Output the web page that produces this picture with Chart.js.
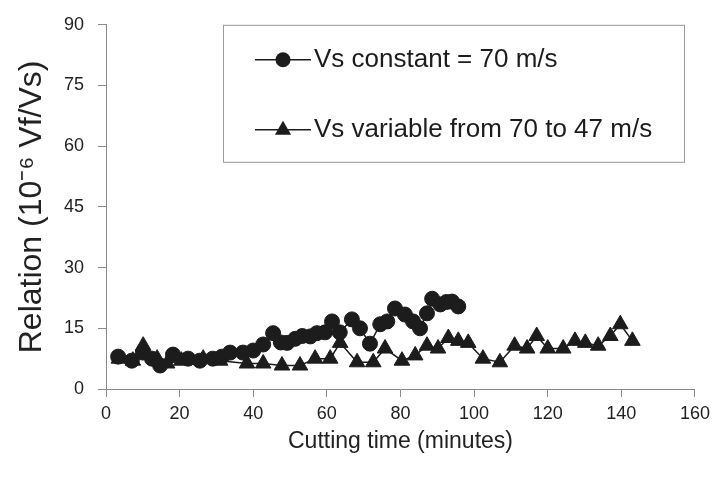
<!DOCTYPE html>
<html>
<head>
<meta charset="utf-8">
<script src="https://cdn.jsdelivr.net/npm/chart.js@4"></script>
<style>
  html, body { margin: 0; padding: 0; background: #fff; }
  #wrap { width: 716px; height: 491px; }
</style>
</head>
<body>
<div id="wrap"><canvas id="myChart" width="716" height="491"></canvas></div>
<script>
// Series: cutting time (min) and relation (10^-6 Vf/Vs)
const constTime = [3.3, 7, 10, 12.5, 14.7, 18.2, 22.3, 25.5, 29, 31.5, 33.7, 37.2, 40, 42.7, 45.4, 47.5, 49.2, 51.4, 53.3, 55.5, 57.3, 59.5, 61.4, 63.5, 66.8, 69, 71.7, 74.5, 76.4, 78.5, 81.2, 83.4, 85.3, 87.2, 88.6, 90.8, 92.5, 94, 95.7];
const constValue = [8, 7, 9, 7.5, 5.8, 8.5, 7.5, 7, 7.5, 8, 9, 9, 9.5, 11, 13.8, 11.5, 11.4, 12.4, 13.1, 13, 13.8, 14, 16.7, 14, 17.2, 15, 11.2, 16, 16.7, 19.9, 18.4, 16.7, 15, 18.7, 22.3, 20.9, 21.5, 21.6, 20.4];

const varTime = [3.5, 7.3, 10.1, 13.9, 16.6, 20.5, 26.4, 31, 38.3, 42.7, 47.8, 52.7, 56.8, 60.9, 63.6, 68.2, 72.6, 75.8, 80.4, 84, 87.2, 90.2, 93, 95.7, 98.4, 102.4, 107, 111, 114.4, 117, 120, 124.2, 127.4, 130.2, 133.7, 137, 139.7, 143];
const varValue = [7.5, 7, 10.7, 7.5, 6.3, 7, 7.5, 7, 6.3, 6.3, 5.8, 5.8, 7.5, 7.5, 11.4, 6.6, 6.6, 10, 7, 8.3, 10.7, 10, 12.6, 11.9, 11.4, 7.5, 6.6, 10.7, 10, 13.1, 10, 10, 11.9, 11.4, 10.7, 13.1, 16, 11.9];

const seriesLabels = ['Vs constant = 70 m/s', 'Vs variable from 70 to 47 m/s'];
const xTicks = [0, 20, 40, 60, 80, 100, 120, 140, 160];
const yTicks = [0, 15, 30, 45, 60, 75, 90];

const ink = '#1c1c1c';
const axisGray = '#8a8a8a';
const font = 'Liberation Sans, Arial, sans-serif';

function toPoints(xs, ys) {
    return xs.map((x, i) => ({ x: x, y: ys[i] }));
}

// Boxed legend drawn inside the plot, like the original figure
const boxLegend = {
    id: 'boxLegend',
    afterDraw(chart) {
        const ctx = chart.ctx;
        const a = chart.chartArea;
        const left = a.left + 117, top = a.top, right = 684, bottom = a.top + 137;
        ctx.save();
        ctx.strokeStyle = '#9a9a9a';
        ctx.lineWidth = 1;
        ctx.strokeRect(left + 0.5, top + 0.5, right - left, bottom - top);

        const rows = [
            { y: top + 35, style: 'circle', r: 7.5 },
            { y: top + 105, style: 'triangle', r: 9 }
        ];
        rows.forEach((row, i) => {
            const x0 = left + 32, x1 = left + 88, xm = (x0 + x1) / 2;
            ctx.strokeStyle = ink;
            ctx.lineWidth = 1.5;
            ctx.beginPath();
            ctx.moveTo(x0, row.y);
            ctx.lineTo(x1, row.y);
            ctx.stroke();
            ctx.fillStyle = ink;
            ctx.beginPath();
            if (row.style === 'circle') {
                ctx.arc(xm, row.y, row.r, 0, Math.PI * 2);
            } else {
                ctx.moveTo(xm, row.y - row.r);
                ctx.lineTo(xm + row.r * 0.9, row.y + row.r * 0.55);
                ctx.lineTo(xm - row.r * 0.9, row.y + row.r * 0.55);
                ctx.closePath();
            }
            ctx.fill();
            ctx.font = '26px ' + font;
            ctx.textBaseline = 'middle';
            ctx.textAlign = 'left';
            ctx.fillText(seriesLabels[i], x1 + 3, row.y);
        });
        ctx.restore();
    }
};

const chartCanvas = document.getElementById('myChart').getContext('2d');
new Chart(chartCanvas, {
    type: 'scatter',
    data: {
        datasets: [
            {
                label: seriesLabels[0],
                data: toPoints(constTime, constValue),
                showLine: true,
                borderColor: ink,
                borderWidth: 1.5,
                backgroundColor: ink,
                pointStyle: 'circle',
                pointRadius: 7.5,
                pointBorderWidth: 1
            },
            {
                label: seriesLabels[1],
                data: toPoints(varTime, varValue),
                showLine: true,
                borderColor: ink,
                borderWidth: 1.5,
                backgroundColor: ink,
                pointStyle: 'triangle',
                pointRadius: 9,
                pointBorderWidth: 1
            }
        ]
    },
    options: {
        responsive: false,
        animation: false,
        layout: { padding: { top: 18, right: 21, left: 13, bottom: 36 } },
        plugins: {
            legend: { display: false },
            tooltip: { enabled: false }
        },
        scales: {
            x: {
                type: 'linear',
                min: 0,
                max: 160,
                afterBuildTicks: s => { s.ticks = xTicks.map(v => ({ value: v })); },
                afterFit: s => { s.height = 66; },
                border: { color: axisGray, width: 1 },
                grid: { drawOnChartArea: false, color: axisGray, tickLength: 8 },
                ticks: { color: '#222', font: { family: font, size: 18 }, padding: 6 },
                title: {
                    display: true,
                    text: 'Cutting time (minutes)',
                    color: '#222',
                    font: { family: font, size: 23 },
                    padding: { top: 4, bottom: 0 }
                }
            },
            y: {
                type: 'linear',
                min: 0,
                max: 90,
                afterBuildTicks: s => { s.ticks = yTicks.map(v => ({ value: v })); },
                afterFit: s => { s.width = 93; },
                border: { color: axisGray, width: 1 },
                grid: { drawOnChartArea: false, color: axisGray, tickLength: 8 },
                ticks: { color: '#222', font: { family: font, size: 18 }, padding: 14 },
                title: {
                    display: true,
                    text: 'Relation (10\u207B\u2076 Vf/Vs)',
                    color: '#222',
                    font: { family: font, size: 32 },
                    padding: { top: 0, bottom: 0 }
                }
            }
        }
    },
    plugins: [boxLegend]
});
</script>
</body>
</html>
